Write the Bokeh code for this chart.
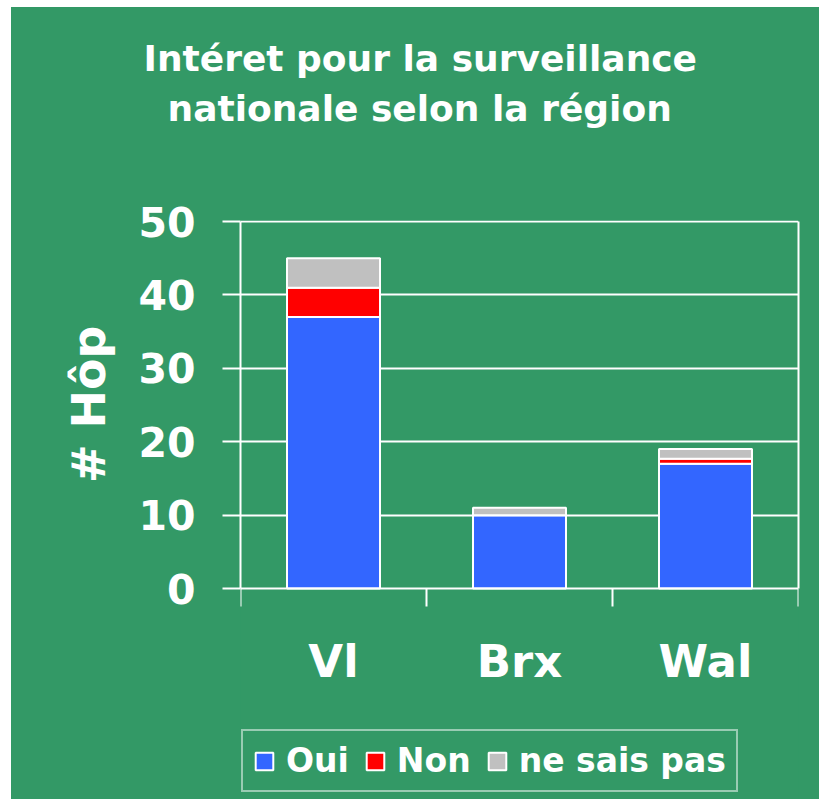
from bokeh.plotting import figure
from bokeh.models import Range1d, FixedTicker, Title, Legend, LinearAxis
from bokeh.embed import file_html
from bokeh.resources import INLINE

# ---- data ----
regions = ["Vl", "Brx", "Wal"]
oui = [37, 10, 17]
non = [4, 0, 0.7]
nsp = [4, 1, 1.3]
series = ["Oui", "Non", "ne sais pas"]
y_ticks = [0, 10, 20, 30, 40, 50]
y_max = 50
title_lines = ["Intéret pour la surveillance", "nationale selon la région"]
y_label = "# Hôp"

GREEN = "#339966"
colors = ["#3366FF", "#FF0000", "#C0C0C0"]
FONT = "DejaVu Sans"
Y_VIEW_MIN = -28.75   # room below the axis for category labels and legend
Y_VIEW_PAD = 0.15     # small headroom so the top grid line is drawn

xs = [i + 0.5 for i in range(len(regions))]
data = {"x": xs, "Oui": oui, "Non": non, "ne sais pas": nsp}

p = figure(width=808, height=792, output_backend="svg", toolbar_location=None,
           x_range=Range1d(0, len(regions)),
           y_range=Range1d(Y_VIEW_MIN, y_max + Y_VIEW_PAD),
           min_border_left=229, min_border_right=21, min_border_top=213,
           min_border_bottom=0)
p.margin = (7, 0, 0, 11)
p.styles = {"background-color": GREEN}
p.background_fill_color = GREEN
p.border_fill_color = GREEN
p.outline_line_color = None

renderers = p.vbar_stack(series, x="x", width=0.5, source=data, color=colors,
                         line_color="white", line_width=2)

# y axis (left)
p.yaxis.bounds = (0, y_max)
p.yaxis.ticker = FixedTicker(ticks=y_ticks)
p.yaxis.axis_line_color = "white"
p.yaxis.axis_line_width = 2
p.yaxis.major_tick_line_color = "white"
p.yaxis.major_tick_line_width = 2
p.yaxis.major_tick_out = 18
p.yaxis.major_tick_in = 0
p.yaxis.minor_tick_line_color = None
p.yaxis.major_label_text_color = "white"
p.yaxis.major_label_text_font = FONT
p.yaxis.major_label_text_font_style = "bold"
p.yaxis.major_label_text_font_size = "41px"
p.yaxis.major_label_standoff = 27

# y axis title, centred on the 0..50 part of the axis
p.add_layout(Title(text=y_label, align="right", offset=105, standoff=40,
                   text_color="white", text_font=FONT, text_font_style="bold",
                   text_font_size="46px"), "left")

# right border of the plot area
raxis = LinearAxis(bounds=(0, y_max), ticker=FixedTicker(ticks=[]),
                   axis_line_color="white", axis_line_width=2,
                   major_tick_line_color=None, minor_tick_line_color=None,
                   major_label_text_font_size="0px")
p.add_layout(raxis, "right")

# x axis at y = 0
p.xaxis.fixed_location = 0
p.xaxis.ticker = FixedTicker(ticks=xs, minor_ticks=list(range(len(regions) + 1)))
p.xaxis.major_label_overrides = {x: r for x, r in zip(xs, regions)}
p.xaxis.axis_line_color = "white"
p.xaxis.axis_line_width = 2
p.xaxis.major_tick_line_color = None
p.xaxis.major_tick_out = 0
p.xaxis.major_tick_in = 0
p.xaxis.minor_tick_line_color = "white"
p.xaxis.minor_tick_line_width = 2
p.xaxis.minor_tick_out = 18
p.xaxis.minor_tick_in = 0
p.xaxis.major_label_text_color = "white"
p.xaxis.major_label_text_font = FONT
p.xaxis.major_label_text_font_style = "bold"
p.xaxis.major_label_text_font_size = "45px"
p.xaxis.major_label_standoff = 28

p.xgrid.grid_line_color = None
p.ygrid.ticker = FixedTicker(ticks=y_ticks[1:])
p.ygrid.grid_line_color = "white"
p.ygrid.grid_line_width = 2

# title: spacer nearest the frame, then second line, then first line
p.add_layout(Title(text=" ", text_font_size="10px", standoff=79,
                   text_color="white"), "above")
title_offsets = [-97, -73]
title_standoffs = [14, 0]
for txt, off, so in reversed(list(zip(title_lines, title_offsets, title_standoffs))):
    p.add_layout(Title(text=txt, align="left", offset=off, standoff=so,
                       text_color="white", text_font=FONT, text_font_style="bold",
                       text_font_size="36px"), "above")

legend = Legend(items=[(s, [r]) for s, r in zip(series, renderers)],
                location=(1, 7), orientation="horizontal",
                background_fill_color=GREEN, background_fill_alpha=1,
                border_line_color="white", border_line_width=2,
                label_text_color="white", label_text_font=FONT,
                label_text_font_style="bold", label_text_font_size="33px",
                glyph_width=22, glyph_height=22, label_standoff=11,
                spacing=15, padding=10, margin=0)
p.add_layout(legend, "center")

open("out.html", "w").write(file_html(p, INLINE))
